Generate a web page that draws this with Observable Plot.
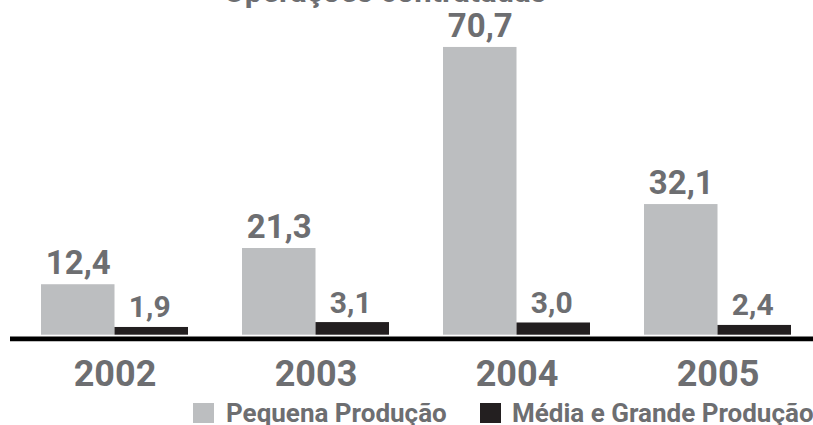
<!DOCTYPE html>
<html>
<head>
<meta charset="utf-8">
<script src="https://cdn.jsdelivr.net/npm/d3@7"></script>
<script src="https://cdn.jsdelivr.net/npm/@observablehq/plot@0.6"></script>
<style>
  body { margin: 0; background: #fff; }
  #wrap { position: relative; width: 813px; height: 425px; overflow: hidden;
          font-family: Roboto, "Liberation Sans", sans-serif; font-weight: bold; color: #6d6e71; }
  #chart { position: absolute; left: 0; top: 0; }
  .sw { position: absolute; width: 21px; height: 20px; }
  .lt { position: absolute; font-size: 26px; line-height: 26px; letter-spacing: 0px; white-space: nowrap; }
</style>
</head>
<body>
<div id="wrap">
  <div id="chart"></div>
  <div class="sw" style="left:193px;top:402.5px;background:#bcbec0"></div>
  <div class="lt" style="left:226px;top:399.8px">Pequena Produção</div>
  <div class="sw" style="left:480px;top:402.5px;background:#231f20"></div>
  <div class="lt" style="left:512px;top:399.8px">Média e Grande Produção</div>
</div>
<script>
const title = "Operações contratadas";
const years = ["2002", "2003", "2004", "2005"];
const pequena = [12.4, 21.3, 70.7, 32.1];
const mediaGrande = [1.9, 3.1, 3.0, 2.4];
const series = ["Pequena Produção", "Média e Grande Produção"];

const rows = [];
years.forEach((y, i) => {
  rows.push({year: y, serie: series[0], value: pequena[i]});
  rows.push({year: y, serie: series[1], value: mediaGrande[i]});
});
const fmt = v => v.toFixed(1).replace(".", ",");
const GRAY = "#bcbec0", BLACK = "#231f20", TXT = "#6d6e71";
const half = 73.5;

const chart = Plot.plot({
  width: 813,
  height: 398,
  marginLeft: 10,
  marginRight: 0,
  marginTop: 0,
  marginBottom: 0,
  style: {fontFamily: 'Roboto, "Liberation Sans", sans-serif', background: "transparent"},
  x: {domain: years, range: [40.5, 792], paddingInner: 0.27, paddingOuter: 0, axis: null},
  y: {domain: [0, 75], range: [334.7, 334.7 - 75 * 4.07], axis: null},
  marks: [
    Plot.text([title], {frameAnchor: "top", text: d => d, lineAnchor: "bottom", dy: 1, dx: -27, fill: TXT, fontSize: 31, fontWeight: "bold"}),
    Plot.barY(rows.filter(d => d.serie === series[0]), {x: "year", y: "value", fill: GRAY, insetRight: half}),
    Plot.barY(rows.filter(d => d.serie === series[1]), {x: "year", y: "value", fill: BLACK, insetLeft: half}),
    Plot.ruleY([0], {stroke: "#000", strokeWidth: 4.7, dy: 3.7}),
    Plot.text(rows.filter(d => d.serie === series[0]), {x: "year", y: "value", text: d => fmt(d.value), dx: -half / 2, dy: -10.5, lineAnchor: "bottom", fill: TXT, fontSize: 33, fontWeight: "bold", style: "letter-spacing:-1px"}),
    Plot.text(rows.filter(d => d.serie === series[1]), {x: "year", y: "value", text: d => fmt(d.value), dx: half / 2 - 2, dy: -10, lineAnchor: "bottom", fill: TXT, fontSize: 30, fontWeight: "bold", style: "letter-spacing:-0.8px"}),
    Plot.text(years, {x: d => d, y: () => 0, text: d => d, dy: 50.5, dx: 0, lineAnchor: "bottom", fill: TXT, fontSize: 36, fontWeight: "bold", style: "letter-spacing:-2.4px"})
  ]
});
document.getElementById("chart").appendChild(chart);
</script>
</body>
</html>
